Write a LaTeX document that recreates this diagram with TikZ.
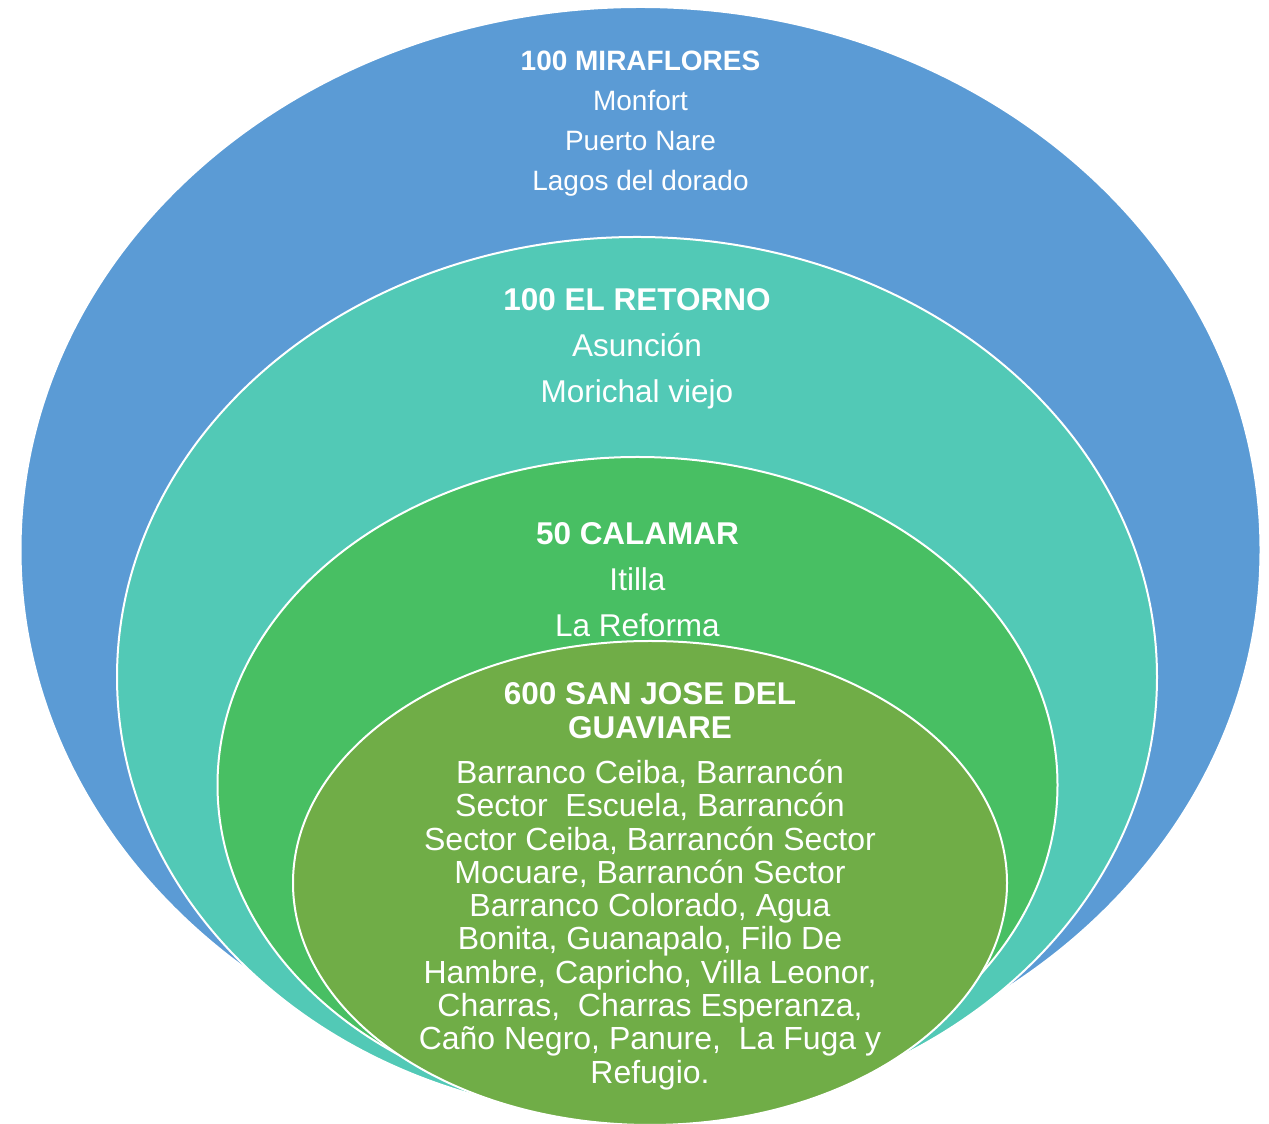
\documentclass[tikz,border=0pt]{standalone}
\usepackage{fontspec}
\setmainfont{Liberation Sans}
\usepackage{tikz}
\usetikzlibrary{shapes.geometric, positioning}
\definecolor{ringblue}{RGB}{91, 155, 213}
\definecolor{ringteal}{RGB}{82, 201, 182}
\definecolor{ringgreen}{RGB}{72, 191, 99}
\definecolor{ringolive}{RGB}{112, 173, 71}

\begin{document}
\begin{tikzpicture}[
    x=1pt, y=1pt,
    ring/.style={ellipse, draw=white, line width=2pt, inner sep=0pt},
    title/.style={text=white, align=center, inner sep=0pt,
                  font=\bfseries\fontsize{31.5}{34}\selectfont},
    places/.style={text=white, align=center, inner sep=0pt,
                   font=\fontsize{31.5}{46}\selectfont}
]
\useasboundingbox (0,0) rectangle (1269,1124);

% Rings, outermost first
\node[ring, fill=ringblue, minimum width=1240pt, minimum height=1086pt] (miraflores) at (640.5,574) {};
\node[ring, fill=ringteal, minimum width=1040pt, minimum height=880pt] (retorno) at (637,447) {};
\node[ring, fill=ringgreen, minimum width=840pt, minimum height=656pt] (calamar) at (637.5,339) {};
\node[ring, fill=ringolive, minimum width=714pt, minimum height=484pt] (sanjose) at (650,241) {};

% Outer ring text
\node[places, font=\fontsize{28}{40}\selectfont, below=45pt of miraflores.north] (miraflorestext)
    {\textbf{100 MIRAFLORES}\\Monfort\\Puerto Nare\\Lagos del dorado};

% Second ring text
\node[places, below=52pt of retorno.north] (retornotext)
    {\textbf{100 EL RETORNO}\\Asunción\\Morichal viejo};

% Third ring text
\node[places, below=66pt of calamar.north] (calamartext)
    {\textbf{50 CALAMAR}\\Itilla\\La Reforma};

% Inner ring text
\node[title, below=42pt of sanjose.north] (sanjosetitle) {600 SAN JOSE DEL\\GUAVIARE};
\node[places, font=\fontsize{32}{33.3}\selectfont, below=21pt of sanjosetitle] (sanjosetext)
    {Barranco Ceiba, Barrancón\\Sector~ Escuela, Barrancón\\Sector Ceiba, Barrancón Sector\\
     Mocuare, Barrancón Sector\\Barranco Colorado, Agua\\Bonita, Guanapalo, Filo De\\
     Hambre, Capricho, Villa Leonor,\\Charras,~ Charras Esperanza,\\
     Caño Negro, Panure,~ La Fuga y\\Refugio.};

\end{tikzpicture}
\end{document}
